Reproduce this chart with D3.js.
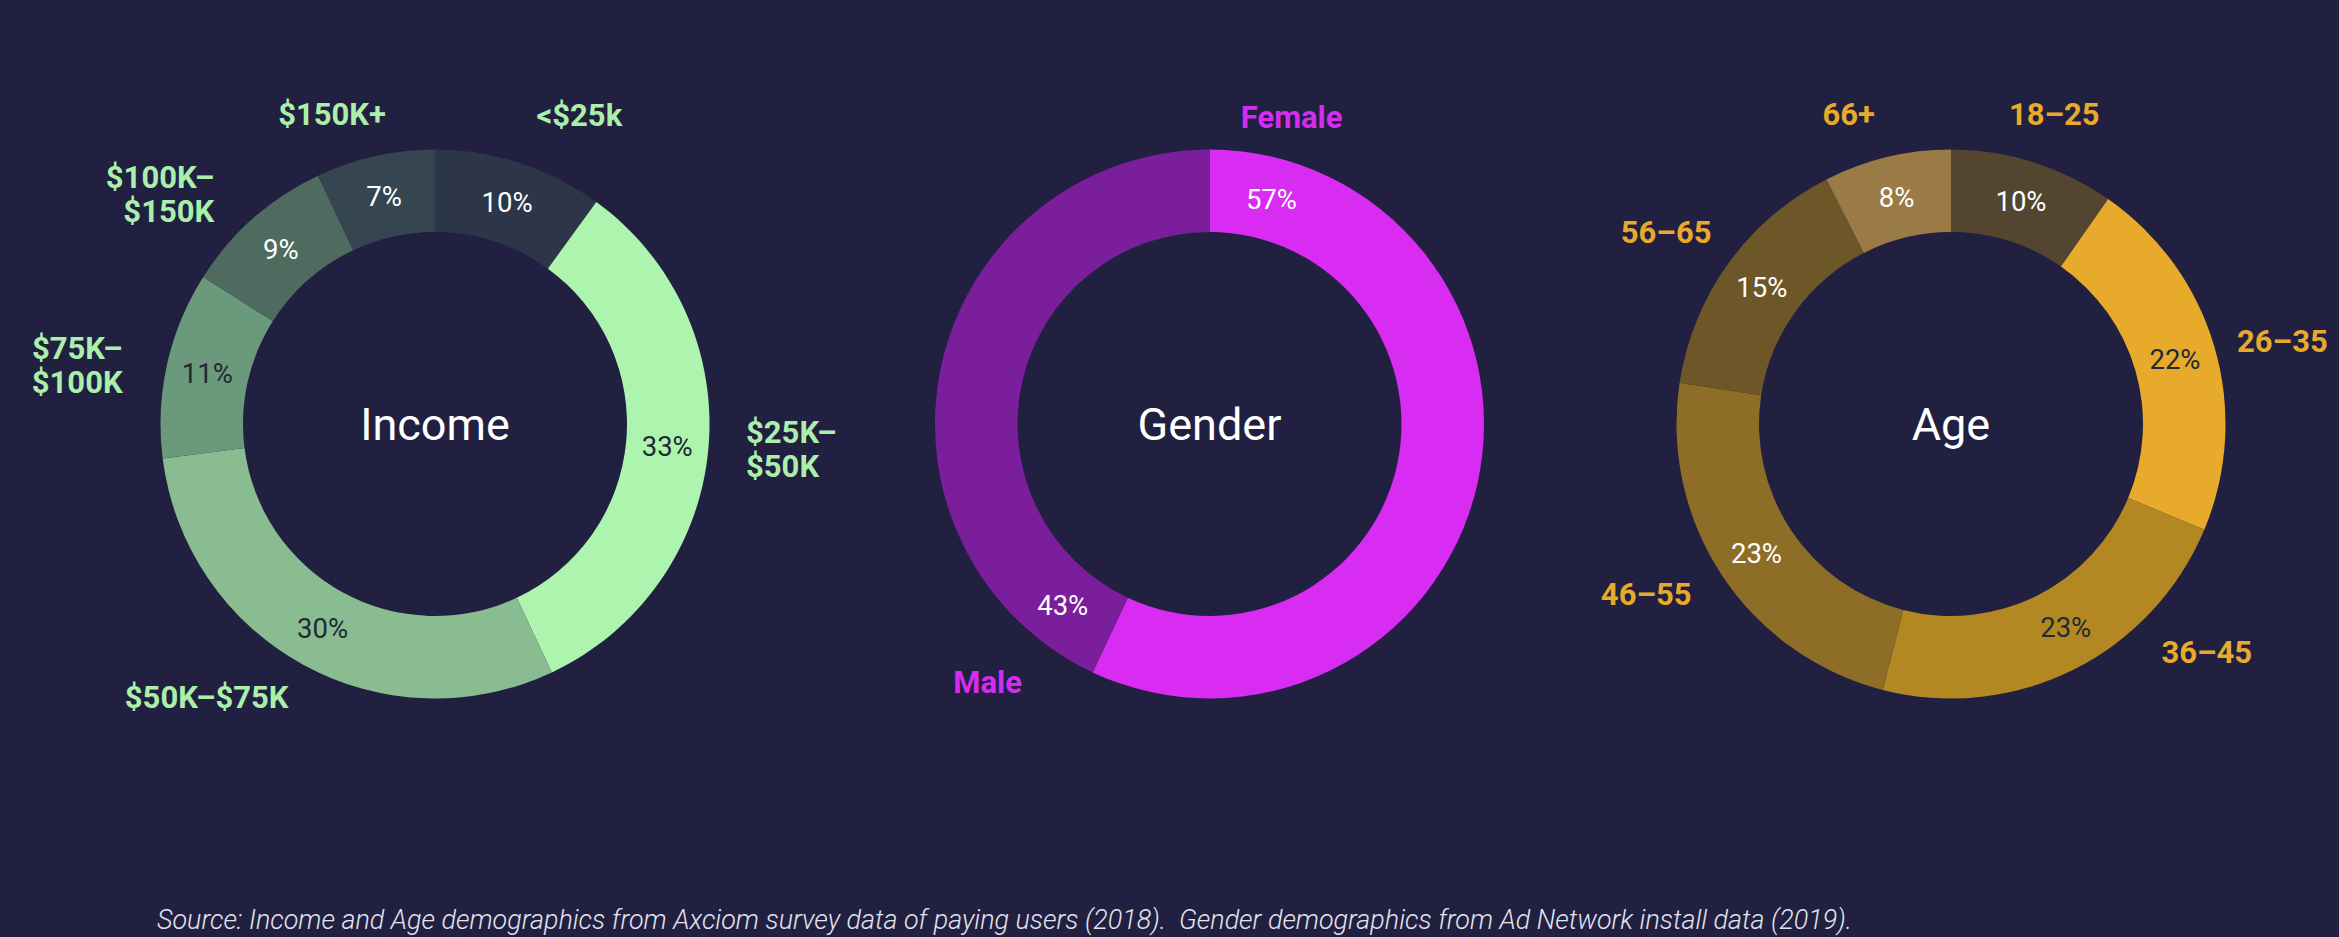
<!DOCTYPE html>
<html>
<head>
<meta charset="utf-8">
<script src="https://cdn.jsdelivr.net/npm/d3@7"></script>
<style>
  html, body { margin: 0; padding: 0; background: #212041; }
  svg { display: block; }
</style>
</head>
<body>
<svg id="chart" width="2339" height="937"></svg>
<script>
// ---------------- DATA ----------------
const incomeCategories = ["<$25k", "$25K–\n$50K", "$50K–$75K", "$75K–\n$100K", "$100K–\n$150K", "$150K+"];
const incomeValues = [10, 33, 30, 11, 9, 7];
const incomePctLabels = ["10%", "33%", "30%", "11%", "9%", "7%"];

const genderCategories = ["Female", "Male"];
const genderValues = [57, 43];
const genderPctLabels = ["57%", "43%"];

const ageCategories = ["18–25", "26–35", "36–45", "46–55", "56–65", "66+"];
const ageValues = [9.7, 21.6, 22.7, 23.4, 15.1, 7.5];
const agePctLabels = ["10%", "22%", "23%", "23%", "15%", "8%"];

const chartTitles = ["Income", "Gender", "Age"];
const sourceNote = "Source: Income and Age demographics from Axciom survey data of paying users (2018).  Gender demographics from Ad Network install data (2019).";

// ---------------- STYLES / LAYOUT ----------------
const W = 2339, H = 937;
const centerXs = [435, 1209.5, 1951];
const centerY = 424;
const outerR = 274.5, innerR = 192;
const lineH = 34;

const incomeColors = ["#2d3549", "#adf5ae", "#89bc91", "#6b997c", "#4f6b60", "#354650"];
const incomePctColors = ["#ffffff", "#1f2a33", "#1f2a33", "#1f2a33", "#ffffff", "#ffffff"];
const genderColors = ["#d82cf2", "#7b1e9b"];
const genderPctColors = ["#ffffff", "#ffffff"];
const ageColors = ["#544531", "#e8aa2b", "#b38722", "#8e6e27", "#6d5728", "#9a7a45"];
const agePctColors = ["#ffffff", "#1f2a33", "#1f2a33", "#ffffff", "#ffffff", "#ffffff"];
const labelColors = ["#aaf0ab", "#d42ded", "#e8aa2b"];

// label placement: angular shift (degrees) from slice mid-angle and label radius
const incomeNameShift = [0.2, -0.9, -0.6, -1.8, -2.4, 3.6];
const incomeNameRadius = [325, 312, 310, 318, 319, 314];
const incomePctShift = [0, 0, 0, 0, 0, 0];
const genderNameShift = [-96.8, -66.6];
const genderNameRadius = [309, 319];
const genderPctShift = [-87.2, -63.6];
const ageNameShift = [-6.9, -0.1, -16.3, 0.3, 2.9, -0.3];
const ageNameRadius = [316, 298, 310, 310, 307, 319];
const agePctShift = [0, 0, -3, 0, 0, 0];

const charts = [
  { cats: incomeCategories, vals: incomeValues, pcts: incomePctLabels, colors: incomeColors, pctColors: incomePctColors,
    nShift: incomeNameShift, nRad: incomeNameRadius, pShift: incomePctShift },
  { cats: genderCategories, vals: genderValues, pcts: genderPctLabels, colors: genderColors, pctColors: genderPctColors,
    nShift: genderNameShift, nRad: genderNameRadius, pShift: genderPctShift },
  { cats: ageCategories, vals: ageValues, pcts: agePctLabels, colors: ageColors, pctColors: agePctColors,
    nShift: ageNameShift, nRad: ageNameRadius, pShift: agePctShift }
];

const deg = Math.PI / 180;
const mid = d => (d.startAngle + d.endAngle) / 2;

const svg = d3.select("#chart");
svg.append("rect").attr("width", W).attr("height", H).attr("fill", "#212041");

const pie = d3.pie().sort(null).value(d => d.v);
const arc = d3.arc().innerRadius(innerR).outerRadius(outerR);
const FONT = "Roboto, 'Noto Sans', 'DejaVu Sans', sans-serif";

charts.forEach((c, ci) => {
  const rows = c.cats.map((cat, i) => ({ cat, v: c.vals[i], pct: c.pcts[i], color: c.colors[i], pctColor: c.pctColors[i] }));
  const arcs = pie(rows);
  const g = svg.append("g").attr("transform", `translate(${centerXs[ci]},${centerY})`);

  g.selectAll("path.slice").data(arcs).join("path")
    .attr("class", "slice")
    .attr("d", arc)
    .attr("fill", d => d.data.color);

  const pA = d => mid(d) + c.pShift[d.index] * deg;
  const nA = d => mid(d) + c.nShift[d.index] * deg;
  const pr = (innerR + outerR) / 2;

  // percentage labels
  g.selectAll("text.pct").data(arcs).join("text")
    .attr("class", "pct")
    .attr("x", d => Math.sin(pA(d)) * pr)
    .attr("y", d => -Math.cos(pA(d)) * pr)
    .attr("dy", "0.36em")
    .attr("text-anchor", "middle")
    .attr("font-family", FONT)
    .attr("font-size", 27.5)
    .attr("fill", d => d.data.pctColor)
    .text(d => d.data.pct);

  // category labels
  g.selectAll("text.cat").data(arcs).join("text")
    .attr("class", "cat")
    .attr("font-family", FONT)
    .attr("font-weight", 700)
    .attr("font-size", 31)
    .attr("fill", labelColors[ci])
    .attr("text-anchor", d => Math.sin(nA(d)) >= 0 ? "start" : "end")
    .each(function (d) {
      const a = nA(d), rr = c.nRad[d.index];
      const x = Math.sin(a) * rr, y = -Math.cos(a) * rr;
      const lines = d.data.cat.split("\n");
      const t = d3.select(this);
      lines.forEach((ln, k) => {
        t.append("tspan")
          .attr("x", x)
          .attr("y", y + (k - (lines.length - 1) / 2) * lineH)
          .attr("dy", "0.36em")
          .text(ln);
      });
    });

  // title in the centre
  g.append("text")
    .attr("text-anchor", "middle")
    .attr("dy", "0.36em")
    .attr("font-family", FONT)
    .attr("font-size", 45)
    .attr("fill", "#ffffff")
    .text(chartTitles[ci]);
});

svg.append("text")
  .attr("x", 157)
  .attr("y", 929)
  .attr("font-family", FONT)
  .attr("font-style", "italic")
  .attr("font-weight", 300)
  .attr("font-size", 26.9)
  .attr("fill", "#e4e4ec")
  .style("white-space", "pre")
  .text(sourceNote);
</script>
</body>
</html>
